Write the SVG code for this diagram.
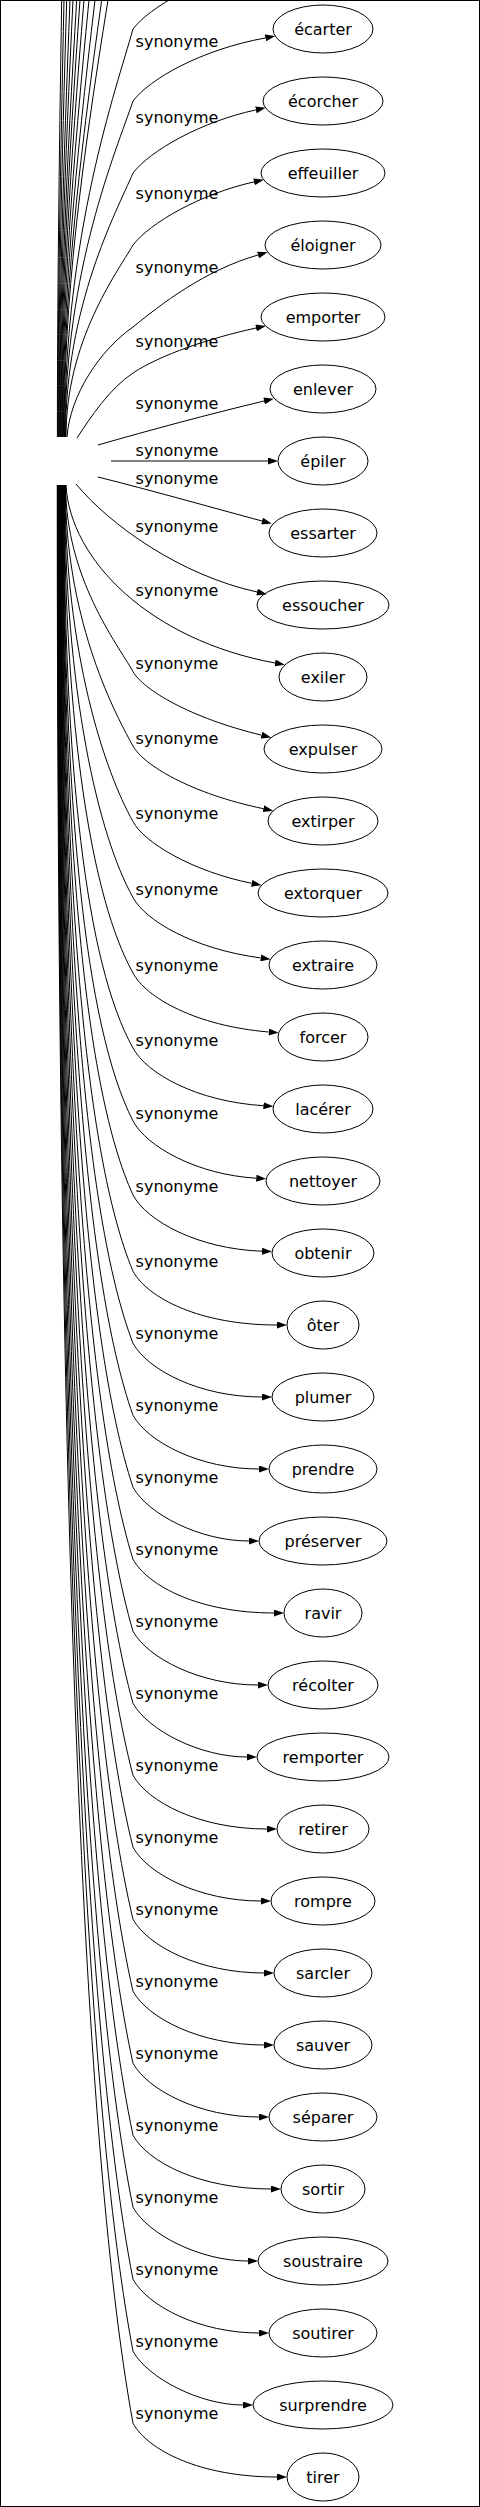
<svg xmlns="http://www.w3.org/2000/svg" width="480" height="2507" viewBox="0 0 480 2507">
<style>
.e{fill:none;stroke:#000;stroke-width:1}
.n ellipse{fill:none;stroke:#000;stroke-width:1}
text{font-family:"DejaVu Sans",sans-serif;font-size:16px;fill:#000;text-anchor:middle}
</style>
<defs>
<marker id="a" viewBox="0 0 10 7" refX="0" refY="3.5" markerWidth="10" markerHeight="7" markerUnits="userSpaceOnUse" orient="auto"><path d="M0,0L10,3.5L0,7z" fill="#000"/></marker>
</defs>
<rect x="0.5" y="0.5" width="479" height="2506" fill="#fff" stroke="#000"/>
<g id="edges">
<g id="hidden-edges">
<path class="e" d="M64.6,437 C64.6,233 115.9,90.2 133,29 C150,7 200,-22 260,-34"/>
<path class="e" d="M64,437 C64,300 80.6,170 108,0 L114.4,-40"/>
<path class="e" d="M63.4,437 C63.4,300 77.9,170 101.7,0 L107.3,-40"/>
<path class="e" d="M62.8,437 C62.8,300 74.9,170 95,0 L99.7,-40"/>
<path class="e" d="M62.2,437 C62.2,300 72.3,170 89,0 L92.9,-40"/>
<path class="e" d="M61.6,437 C61.6,300 70.1,170 84,0 L87.3,-40"/>
<path class="e" d="M61,437 C61,300 68.2,170 80,0 L82.8,-40"/>
<path class="e" d="M60.4,437 C60.4,300 66.5,170 76.7,0 L79.1,-40"/>
<path class="e" d="M59.8,437 C59.8,300 64.8,170 73,0 L74.9,-40"/>
<path class="e" d="M59.2,437 C59.2,300 63.3,170 70,0 L71.6,-40"/>
<path class="e" d="M58.6,437 C58.6,300 61.6,170 66.7,0 L67.9,-40"/>
<path class="e" d="M58,437 C58,300 60.3,170 64,0 L64.9,-40"/>
<path class="e" d="M57.4,437 C57.4,300 59,170 61.7,0 L62.3,-40"/>
</g>
<g id="e0"><path class="e" marker-end="url(#a)" d="M65,437 C65,269 116,151.4 133,101 C150,79 200,50 265.4,37.9"/><text x="177" y="47.2">synonyme</text></g>
<g id="e1"><path class="e" marker-end="url(#a)" d="M65.5,437 C65.5,305 116.1,212.6 133,173 C150,151 200,122 255.9,109.9"/><text x="177" y="122.5">synonyme</text></g>
<g id="e2"><path class="e" marker-end="url(#a)" d="M66,437 C66,341 116.3,273.8 133,245 C150,223 200,194 254,181.9"/><text x="177" y="198.5">synonyme</text></g>
<g id="e3"><path class="e" marker-end="url(#a)" d="M67,437 C70,395 100,350 133,327 C160,305 205,270 258,255"/><text x="177" y="272.5">synonyme</text></g>
<g id="e4"><path class="e" marker-end="url(#a)" d="M77,438 C90,418 110,388 133,373 C160,355 210,338 256,328"/><text x="177" y="346.5">synonyme</text></g>
<g id="e5"><path class="e" marker-end="url(#a)" d="M98,445 C150,430 210,414 264,401"/><text x="177" y="408.5">synonyme</text></g>
<g id="e6"><path class="e" marker-end="url(#a)" d="M111,461 L268,461"/><text x="177" y="455.5">synonyme</text></g>
<g id="e7"><path class="e" marker-end="url(#a)" d="M98,477 C150,490 210,507 262,521"/><text x="177" y="483.5">synonyme</text></g>
<g id="e8"><path class="e" marker-end="url(#a)" d="M76,484 C110,525 180,575 257,592"/><text x="177" y="531.5">synonyme</text></g>
<g id="e9"><path class="e" marker-end="url(#a)" d="M66,485 C70,560 150,640 275,663"/><text x="177" y="595.5">synonyme</text></g>
<g id="e10"><path class="e" marker-end="url(#a)" d="M65.65,485 C65.65,578.3 117.3,643.6 133,671.6 C143,689.4 190,718 261.5,735.1"/><text x="177" y="669.1">synonyme</text></g>
<g id="e11"><path class="e" marker-end="url(#a)" d="M65.3,485 C65.3,615.5 111.1,706.8 133,746 C143.4,765 190.9,793.6 263.4,808.7"/><text x="177" y="743.5">synonyme</text></g>
<g id="e12"><path class="e" marker-end="url(#a)" d="M64.95,485 C64.95,653.3 104.7,771.1 133,821.6 C144.2,842.7 192.4,871.4 251.7,883.3"/><text x="177" y="819.1">synonyme</text></g>
<g id="e13"><path class="e" marker-end="url(#a)" d="M64.6,485 C64.6,691.3 98.3,835.6 133,897.5 C145.1,920.5 194.1,949.2 260.7,957.9"/><text x="177" y="895">synonyme</text></g>
<g id="e14"><path class="e" marker-end="url(#a)" d="M64.25,485 C64.25,729 92,899.8 133,973 C145.8,997.5 195.7,1025.9 268.7,1032"/><text x="177" y="970.5">synonyme</text></g>
<g id="e15"><path class="e" marker-end="url(#a)" d="M63.9,485 C63.9,766.5 85.7,963.6 133,1048 C146.5,1073.5 197,1101.6 263.4,1105.7"/><text x="177" y="1045.5">synonyme</text></g>
<g id="e16"><path class="e" marker-end="url(#a)" d="M63.55,485 C63.55,803 84.4,1025.6 133,1121 C146.7,1146.8 197.4,1174.8 256.3,1178.2"/><text x="177" y="1118.5">synonyme</text></g>
<g id="e17"><path class="e" marker-end="url(#a)" d="M63.2,485 C63.2,840 84.2,1088.5 133,1195 C147.1,1221.3 198.3,1249 262,1251.2"/><text x="177" y="1192">synonyme</text></g>
<g id="e18"><path class="e" marker-end="url(#a)" d="M62.85,485 C62.85,878.2 83.9,1153.4 133,1271.3 C148,1298.2 200,1325 277,1325"/><text x="177" y="1266.8">synonyme</text></g>
<g id="e19"><path class="e" marker-end="url(#a)" d="M62.5,485 C62.5,914.2 83.65,1214.6 133,1343.3 C148,1370.2 200,1397 262,1397"/><text x="177" y="1338.8">synonyme</text></g>
<g id="e20"><path class="e" marker-end="url(#a)" d="M62.15,485 C62.15,950.2 83.4,1275.8 133,1415.3 C148,1442.2 200,1469 259,1469"/><text x="177" y="1410.8">synonyme</text></g>
<g id="e21"><path class="e" marker-end="url(#a)" d="M61.8,485 C61.8,986.2 83.2,1337 133,1487.3 C148,1514.2 200,1541 249,1541"/><text x="177" y="1482.8">synonyme</text></g>
<g id="e22"><path class="e" marker-end="url(#a)" d="M61.45,485 C61.45,1022.2 82.9,1398.2 133,1559.3 C148,1586.2 200,1613 274,1613"/><text x="177" y="1554.8">synonyme</text></g>
<g id="e23"><path class="e" marker-end="url(#a)" d="M61.1,485 C61.1,1058.2 82.7,1459.4 133,1631.3 C148,1658.2 200,1685 258,1685"/><text x="177" y="1626.8">synonyme</text></g>
<g id="e24"><path class="e" marker-end="url(#a)" d="M60.75,485 C60.75,1094.2 82.4,1520.6 133,1703.3 C148,1730.2 200,1757 247,1757"/><text x="177" y="1698.8">synonyme</text></g>
<g id="e25"><path class="e" marker-end="url(#a)" d="M60.4,485 C60.4,1130.2 82.2,1581.8 133,1775.3 C148,1802.2 200,1829 267,1829"/><text x="177" y="1770.8">synonyme</text></g>
<g id="e26"><path class="e" marker-end="url(#a)" d="M60.05,485 C60.05,1166.2 81.9,1643 133,1847.3 C148,1874.2 200,1901 261,1901"/><text x="177" y="1842.8">synonyme</text></g>
<g id="e27"><path class="e" marker-end="url(#a)" d="M59.7,485 C59.7,1202.2 81.7,1704.2 133,1919.3 C148,1946.2 200,1973 264,1973"/><text x="177" y="1914.8">synonyme</text></g>
<g id="e28"><path class="e" marker-end="url(#a)" d="M59.35,485 C59.35,1238.2 81.4,1765.4 133,1991.3 C148,2018.2 200,2045 264,2045"/><text x="177" y="1986.8">synonyme</text></g>
<g id="e29"><path class="e" marker-end="url(#a)" d="M59,485 C59,1274.2 81.2,1826.6 133,2063.3 C148,2090.2 200,2117 259,2117"/><text x="177" y="2058.8">synonyme</text></g>
<g id="e30"><path class="e" marker-end="url(#a)" d="M58.65,485 C58.65,1310.2 81,1887.8 133,2135.3 C148,2162.2 200,2189 271,2189"/><text x="177" y="2130.8">synonyme</text></g>
<g id="e31"><path class="e" marker-end="url(#a)" d="M58.3,485 C58.3,1346.2 80.7,1949 133,2207.3 C148,2234.2 200,2261 248,2261"/><text x="177" y="2202.8">synonyme</text></g>
<g id="e32"><path class="e" marker-end="url(#a)" d="M57.95,485 C57.95,1382.2 80.5,2010.2 133,2279.3 C148,2306.2 200,2333 259,2333"/><text x="177" y="2274.8">synonyme</text></g>
<g id="e33"><path class="e" marker-end="url(#a)" d="M57.6,485 C57.6,1418.2 80.2,2071.4 133,2351.3 C148,2378.2 200,2405 243,2405"/><text x="177" y="2346.8">synonyme</text></g>
<g id="e34"><path class="e" marker-end="url(#a)" d="M57.25,485 C57.25,1454.2 80,2132.6 133,2423.3 C148,2450.2 200,2477 277,2477"/><text x="177" y="2418.8">synonyme</text></g>
</g>
<g id="nodes">
<g id="n0" class="n"><ellipse cx="323" cy="29" rx="50" ry="24"/><text x="323" y="34.5">écarter</text></g>
<g id="n1" class="n"><ellipse cx="323" cy="101" rx="60" ry="24"/><text x="323" y="106.5">écorcher</text></g>
<g id="n2" class="n"><ellipse cx="323" cy="173" rx="62" ry="24"/><text x="323" y="178.5">effeuiller</text></g>
<g id="n3" class="n"><ellipse cx="323" cy="245" rx="58" ry="24"/><text x="323" y="250.5">éloigner</text></g>
<g id="n4" class="n"><ellipse cx="323" cy="317" rx="62" ry="24"/><text x="323" y="322.5">emporter</text></g>
<g id="n5" class="n"><ellipse cx="323" cy="389" rx="53" ry="24"/><text x="323" y="394.5">enlever</text></g>
<g id="n6" class="n"><ellipse cx="323" cy="461" rx="45" ry="24"/><text x="323" y="466.5">épiler</text></g>
<g id="n7" class="n"><ellipse cx="323" cy="533" rx="54" ry="24"/><text x="323" y="538.5">essarter</text></g>
<g id="n8" class="n"><ellipse cx="323" cy="605" rx="66" ry="24"/><text x="323" y="610.5">essoucher</text></g>
<g id="n9" class="n"><ellipse cx="323" cy="677" rx="44" ry="24"/><text x="323" y="682.5">exiler</text></g>
<g id="n10" class="n"><ellipse cx="323" cy="749" rx="59" ry="24"/><text x="323" y="754.5">expulser</text></g>
<g id="n11" class="n"><ellipse cx="323" cy="821" rx="55" ry="24"/><text x="323" y="826.5">extirper</text></g>
<g id="n12" class="n"><ellipse cx="323" cy="893" rx="65" ry="24"/><text x="323" y="898.5">extorquer</text></g>
<g id="n13" class="n"><ellipse cx="323" cy="965" rx="54" ry="24"/><text x="323" y="970.5">extraire</text></g>
<g id="n14" class="n"><ellipse cx="323" cy="1037" rx="45" ry="24"/><text x="323" y="1042.5">forcer</text></g>
<g id="n15" class="n"><ellipse cx="323" cy="1109" rx="50" ry="24"/><text x="323" y="1114.5">lacérer</text></g>
<g id="n16" class="n"><ellipse cx="323" cy="1181" rx="57" ry="24"/><text x="323" y="1186.5">nettoyer</text></g>
<g id="n17" class="n"><ellipse cx="323" cy="1253" rx="51" ry="24"/><text x="323" y="1258.5">obtenir</text></g>
<g id="n18" class="n"><ellipse cx="323" cy="1325" rx="36" ry="24"/><text x="323" y="1330.5">ôter</text></g>
<g id="n19" class="n"><ellipse cx="323" cy="1397" rx="51" ry="24"/><text x="323" y="1402.5">plumer</text></g>
<g id="n20" class="n"><ellipse cx="323" cy="1469" rx="54" ry="24"/><text x="323" y="1474.5">prendre</text></g>
<g id="n21" class="n"><ellipse cx="323" cy="1541" rx="64" ry="24"/><text x="323" y="1546.5">préserver</text></g>
<g id="n22" class="n"><ellipse cx="323" cy="1613" rx="39" ry="24"/><text x="323" y="1618.5">ravir</text></g>
<g id="n23" class="n"><ellipse cx="323" cy="1685" rx="55" ry="24"/><text x="323" y="1690.5">récolter</text></g>
<g id="n24" class="n"><ellipse cx="323" cy="1757" rx="66" ry="24"/><text x="323" y="1762.5">remporter</text></g>
<g id="n25" class="n"><ellipse cx="323" cy="1829" rx="46" ry="24"/><text x="323" y="1834.5">retirer</text></g>
<g id="n26" class="n"><ellipse cx="323" cy="1901" rx="52" ry="24"/><text x="323" y="1906.5">rompre</text></g>
<g id="n27" class="n"><ellipse cx="323" cy="1973" rx="49" ry="24"/><text x="323" y="1978.5">sarcler</text></g>
<g id="n28" class="n"><ellipse cx="323" cy="2045" rx="49" ry="24"/><text x="323" y="2050.5">sauver</text></g>
<g id="n29" class="n"><ellipse cx="323" cy="2117" rx="54" ry="24"/><text x="323" y="2122.5">séparer</text></g>
<g id="n30" class="n"><ellipse cx="323" cy="2189" rx="42" ry="24"/><text x="323" y="2194.5">sortir</text></g>
<g id="n31" class="n"><ellipse cx="323" cy="2261" rx="65" ry="24"/><text x="323" y="2266.5">soustraire</text></g>
<g id="n32" class="n"><ellipse cx="323" cy="2333" rx="54" ry="24"/><text x="323" y="2338.5">soutirer</text></g>
<g id="n33" class="n"><ellipse cx="323" cy="2405" rx="70" ry="24"/><text x="323" y="2410.5">surprendre</text></g>
<g id="n34" class="n"><ellipse cx="323" cy="2477" rx="36" ry="24"/><text x="323" y="2482.5">tirer</text></g>
</g>
</svg>
